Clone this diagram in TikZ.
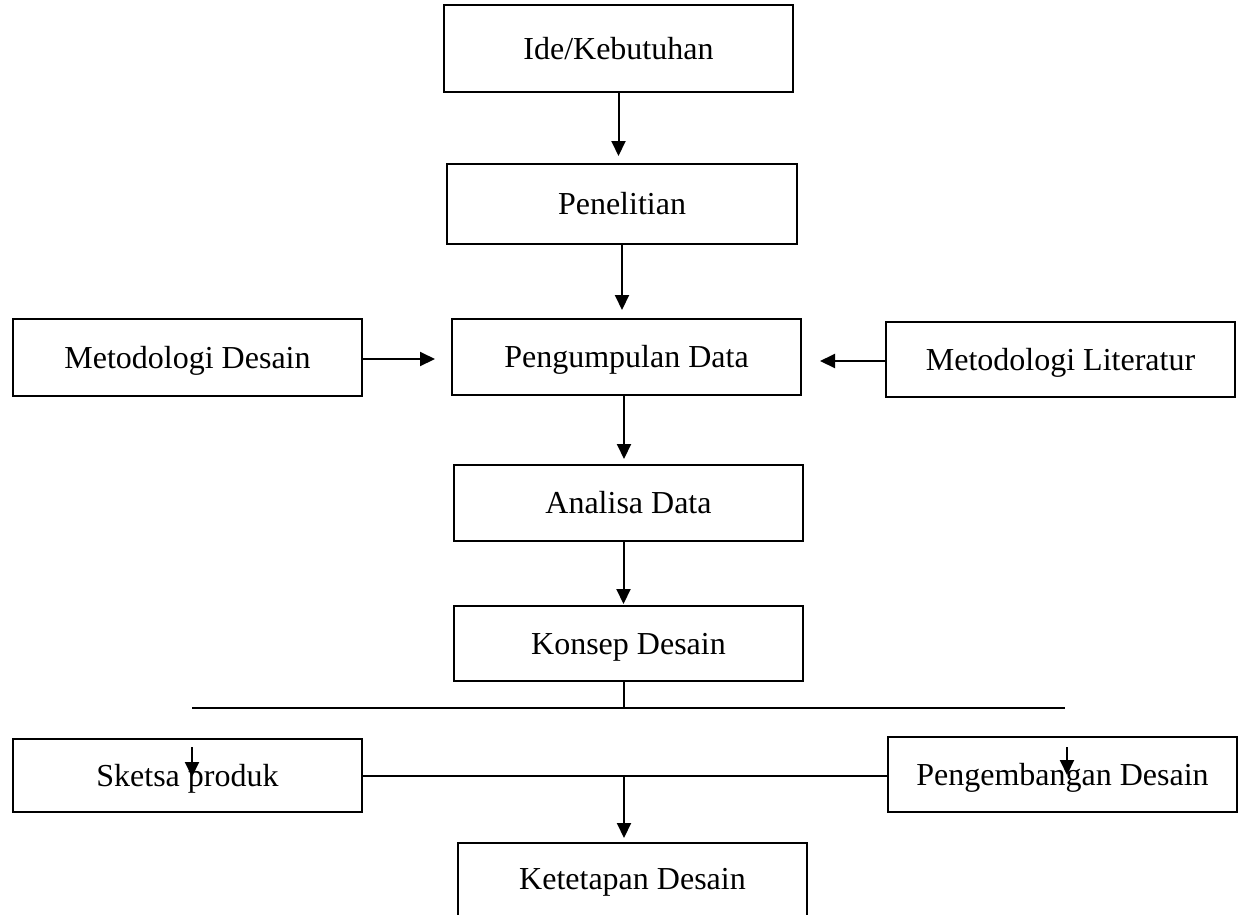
\documentclass[tikz,border=0pt]{standalone}
\usepackage{fontspec}
\setmainfont{Liberation Serif}
\usetikzlibrary{arrows.meta}
\begin{document}
\begin{tikzpicture}[x=1pt,y=-1pt,
  box/.style={draw, line width=2pt, rectangle, inner sep=0pt, minimum width=349pt, text height=21pt, text depth=0pt, font=\fontsize{32}{38}\selectfont},
  conn/.style={line width=2pt},
  arr/.style={line width=2pt, -{Triangle[length=15pt,width=14pt]}}]
\useasboundingbox (0,0) rectangle (1240,914);
\node[box, minimum height=87pt] (ide) at (618.5,48.5) {Ide/Kebutuhan};
\node[box, minimum height=80pt, minimum width=350pt] (pen) at (622,204) {Penelitian};
\node[box, minimum height=76pt] (pd) at (626.5,357) {Pengumpulan Data};
\node[box, minimum height=77pt] (md) at (187.5,357.5) {Metodologi Desain};
\node[box, minimum height=75pt] (ml) at (1060.5,359.5) {Metodologi Literatur};
\node[box, minimum height=76pt] (ad) at (628.5,503) {Analisa Data};
\node[box, minimum height=75pt] (kd) at (628.5,643.5) {Konsep Desain};
\node[box, minimum height=73pt] (sp) at (187.5,775.5) {Sketsa produk};
\node[box, minimum height=75pt] (pg) at (1062.5,774.5) {Pengembangan Desain};
\node[box, minimum height=84pt, text depth=12pt] (kt) at (632.5,885) {Ketetapan Desain};
\coordinate (hj) at (624,708);
\coordinate (hl) at (192,708);
\coordinate (hr) at (1065,708);
\coordinate (j2) at (624,775);
\coordinate (a1s) at (192,747);
\coordinate (a1e) at (192,777);
\coordinate (a2s) at (1067,747);
\coordinate (a2e) at (1067,775);
\draw[arr, shorten >=7pt] (ide.south) -- (ide.south |- pen.north);
\draw[arr, shorten >=8pt] (pen.south) -- (pen.south |- pd.north);
\draw[arr, shorten >=5pt] ([xshift=-2.5pt]pd.south) -- ([xshift=-2.5pt]pd.south |- ad.north);
\draw[arr, shorten >=1pt] ([xshift=-5pt]ad.south) -- ([xshift=-5pt]ad.south |- kd.north);
\draw[arr, shorten >=16pt] ([yshift=-1.5pt]md.east) -- ([yshift=-1.5pt]md.east -| pd.west);
\draw[arr, shorten >=18pt] ([yshift=-1.5pt]ml.west) -- ([yshift=-1.5pt]ml.west -| pd.east);
\draw[conn] (kd.south -| hj) -- (hj);
\draw[conn] (hl) -- (hr);
\draw[conn] (sp.east) -- (sp.east -| pg.west);
\draw[arr, shorten >=4pt] (j2) -- (j2 |- kt.north);
\draw[arr] (a1s) -- (a1e);
\draw[arr] (a2s) -- (a2e);
\end{tikzpicture}
\end{document}
